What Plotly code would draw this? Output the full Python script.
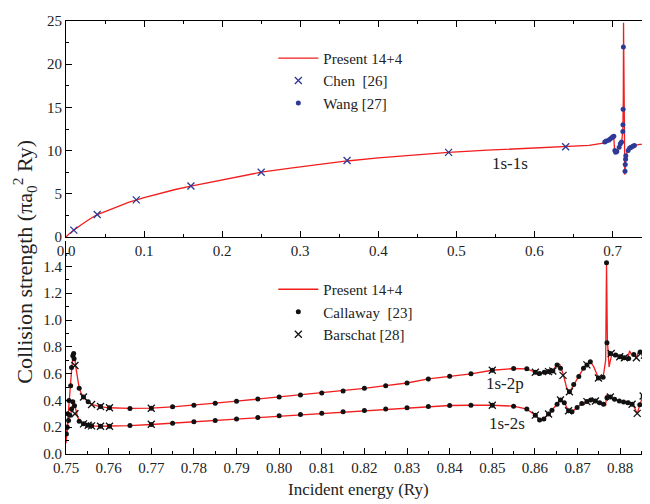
import plotly.graph_objects as go

# ---------------- top panel: 1s-1s ----------------
top_present_E = [0, 0.0025, 0.005, 0.01, 0.015, 0.02, 0.03, 0.04, 0.05, 0.065, 0.08, 0.1, 0.12, 0.14,
                 0.16, 0.19, 0.22, 0.25, 0.29, 0.33, 0.36, 0.40, 0.445, 0.49, 0.54, 0.59, 0.64, 0.67,
                 0.690, 0.693, 0.696, 0.699, 0.7015, 0.7022, 0.703, 0.7045, 0.706, 0.708, 0.710, 0.712,
                 0.7132, 0.7138, 0.7141, 0.7150, 0.7157, 0.7165, 0.7172, 0.719, 0.721, 0.724, 0.728,
                 0.733, 0.738, 0.7405, 0.7410, 0.7416, 0.7420, 0.7428, 0.7437, 0.745, 0.748]
top_present_O = [0, 0.25, 0.45, 0.8, 1.15, 1.45, 2.05, 2.6, 2.95, 3.5, 4.0, 4.55, 5.05, 5.5,
                 5.9, 6.45, 7.0, 7.5, 8.0, 8.45, 8.8, 9.15, 9.5, 9.8, 10.05, 10.25, 10.45, 10.6,
                 10.9, 11.15, 11.4, 11.55, 11.75, 10.6, 9.85, 9.8, 10.0, 10.5, 10.85, 11.2,
                 12.5, 16.0, 24.8, 12.0, 7.2, 8.3, 9.4, 9.9, 10.3, 10.5, 10.6,
                 10.7, 10.75, 10.9, 20.2, 20.2, 12.0, 10.3, 11.0, 10.8, 10.9]

chen_E = [0.01, 0.04, 0.09, 0.16, 0.25, 0.36, 0.49, 0.64]
chen_O = [0.8, 2.6, 4.3, 5.9, 7.5, 8.85, 9.8, 10.45]

wang_E = [0.690, 0.692, 0.695, 0.697, 0.699, 0.7005, 0.7017, 0.703, 0.704, 0.7055, 0.7085, 0.710,
          0.7115, 0.7132, 0.7134, 0.7136, 0.7139, 0.7160, 0.7163, 0.7167, 0.7170, 0.720, 0.722,
          0.724, 0.726, 0.728]
wang_O = [11.0, 11.1, 11.2, 11.35, 11.5, 11.6, 11.65, 10.0, 9.8, 9.9, 10.4, 10.8,
          11.0, 12.2, 13.0, 14.8, 22.0, 7.6, 8.4, 9.0, 9.4, 10.0, 10.3,
          10.4, 10.5, 10.6]

# ---------------- bottom panel: 1s-2p and 1s-2s ----------------
p2p_E = [0.7500, 0.7502, 0.7505, 0.7508, 0.7511, 0.7514, 0.7517, 0.7520, 0.7523, 0.7527, 0.7531,
         0.7536, 0.7541, 0.7550, 0.7560, 0.7580, 0.7600, 0.7650, 0.7700, 0.7750, 0.7800, 0.7850,
         0.7900, 0.7950, 0.8000, 0.8050, 0.8100, 0.8150, 0.8200, 0.8250, 0.8300, 0.8350, 0.8400,
         0.8450, 0.8500, 0.8550, 0.8580, 0.8600, 0.8611, 0.8622, 0.8632, 0.8642, 0.8652, 0.8658,
         0.8666, 0.8674, 0.8681, 0.8691, 0.8703, 0.8714, 0.8722, 0.8730, 0.8738, 0.8749, 0.8760,
         0.8766, 0.8768, 0.8770, 0.8774, 0.8780, 0.8789, 0.8799, 0.8810, 0.8818, 0.8822, 0.8827,
         0.8832, 0.8838, 0.8843, 0.8847, 0.8852, 0.8857, 0.8861, 0.8864, 0.8866, 0.8870]
p2p_O = [0.08, 0.17, 0.30, 0.42, 0.53, 0.66, 0.745, 0.73, 0.65, 0.56, 0.49,
         0.45, 0.425, 0.395, 0.37, 0.354, 0.345, 0.34, 0.342, 0.352, 0.364, 0.379,
         0.394, 0.41, 0.425, 0.44, 0.455, 0.47, 0.49, 0.51, 0.53, 0.56, 0.581,
         0.598, 0.625, 0.638, 0.636, 0.61, 0.60, 0.61, 0.615, 0.625, 0.665, 0.67,
         0.60, 0.50, 0.46, 0.518, 0.579, 0.64, 0.665, 0.689, 0.652, 0.567, 0.572,
         0.70, 1.43, 0.85, 0.65, 0.74, 0.738, 0.726, 0.718, 0.713, 0.77, 0.74,
         0.743, 0.718, 0.765, 0.762, 0.73, 0.738, 0.76, 0.50, 0.80, 0.80]

p2s_E = [0.7500, 0.7502, 0.7505, 0.7508, 0.7511, 0.7514, 0.7517, 0.7520, 0.7523, 0.7527, 0.7531,
         0.7536, 0.7541, 0.7550, 0.7560, 0.7580, 0.7600, 0.7650, 0.7700, 0.7750, 0.7800, 0.7850,
         0.7900, 0.7950, 0.8000, 0.8050, 0.8100, 0.8150, 0.8200, 0.8250, 0.8300, 0.8350, 0.8400,
         0.8450, 0.8500, 0.8550, 0.8581, 0.8601, 0.8611, 0.8621, 0.8632, 0.8640, 0.8652, 0.8660,
         0.8669, 0.8679, 0.8687, 0.8699, 0.8710, 0.8722, 0.8731, 0.8742, 0.8752, 0.8761, 0.8766,
         0.8768, 0.8772, 0.8777, 0.8787, 0.8798, 0.8808, 0.8818, 0.8828, 0.8834, 0.8840, 0.8846,
         0.8854, 0.8863, 0.8866, 0.8868, 0.8870]
p2s_O = [0.10, 0.17, 0.24, 0.29, 0.30, 0.34, 0.40, 0.37, 0.32, 0.28, 0.25,
         0.235, 0.225, 0.217, 0.21, 0.207, 0.207, 0.212, 0.22, 0.23, 0.24, 0.25,
         0.262, 0.273, 0.285, 0.295, 0.305, 0.315, 0.325, 0.335, 0.345, 0.354, 0.362,
         0.364, 0.364, 0.357, 0.335, 0.29, 0.254, 0.261, 0.298, 0.327, 0.371, 0.403,
         0.383, 0.323, 0.315, 0.347, 0.376, 0.391, 0.403, 0.396, 0.383, 0.371, 0.365,
         0.44, 0.43, 0.425, 0.408, 0.396, 0.389, 0.383, 0.371, 0.345, 0.30, 0.367,
         0.433, 0.42, 0.30, 0.44, 0.44]

callaway_2p_E = [0.7502, 0.7504, 0.7507, 0.7511, 0.7513, 0.7516, 0.7518, 0.7519, 0.7531, 0.7541,
                 0.7552, 0.7581, 0.7602, 0.765, 0.770, 0.775, 0.780, 0.785, 0.790, 0.795, 0.800,
                 0.805, 0.810, 0.815, 0.820, 0.825, 0.830, 0.835, 0.840, 0.845, 0.850, 0.855,
                 0.8581, 0.8601, 0.8611, 0.8622, 0.8632, 0.8642, 0.8652, 0.8660, 0.8681, 0.8691,
                 0.8703, 0.8714, 0.8722, 0.8730, 0.8749, 0.8760, 0.8768, 0.8769, 0.8777, 0.8789,
                 0.8799, 0.8810, 0.8820, 0.8832, 0.8847, 0.8857, 0.8865]
callaway_2p_O = [0.20, 0.30, 0.40, 0.51, 0.645, 0.733, 0.75, 0.71, 0.49, 0.425,
                 0.39, 0.354, 0.345, 0.34, 0.342, 0.352, 0.364, 0.379, 0.394, 0.41, 0.425,
                 0.44, 0.455, 0.47, 0.49, 0.51, 0.53, 0.56, 0.581, 0.598, 0.625, 0.638,
                 0.636, 0.61, 0.60, 0.61, 0.615, 0.62, 0.665, 0.64, 0.464, 0.518,
                 0.579, 0.64, 0.665, 0.689, 0.567, 0.572, 1.427, 0.83, 0.75, 0.738,
                 0.726, 0.718, 0.713, 0.743, 0.762, 0.738, 0.767]

callaway_2s_E = [0.7501, 0.7503, 0.7506, 0.7509, 0.7513, 0.7516, 0.7520, 0.7531, 0.7541, 0.7552,
                 0.7560, 0.7581, 0.7602, 0.765, 0.770, 0.775, 0.780, 0.785, 0.790, 0.795, 0.800,
                 0.805, 0.810, 0.815, 0.820, 0.825, 0.830, 0.835, 0.840, 0.845, 0.850, 0.855,
                 0.8581, 0.8601, 0.8611, 0.8621, 0.8632, 0.8640, 0.8652, 0.8660, 0.8669, 0.8679,
                 0.8687, 0.8699, 0.8710, 0.8722, 0.8731, 0.8742, 0.8752, 0.8761, 0.8769, 0.8777,
                 0.8787, 0.8798, 0.8808, 0.8818, 0.8828, 0.8846, 0.8854, 0.8863]
callaway_2s_O = [0.15, 0.20, 0.25, 0.29, 0.335, 0.39, 0.36, 0.245, 0.225, 0.215,
                 0.21, 0.207, 0.207, 0.212, 0.22, 0.23, 0.24, 0.25, 0.262, 0.273, 0.285,
                 0.295, 0.305, 0.315, 0.325, 0.335, 0.345, 0.354, 0.362, 0.364, 0.364, 0.357,
                 0.335, 0.29, 0.254, 0.261, 0.298, 0.327, 0.371, 0.403, 0.383, 0.323,
                 0.315, 0.347, 0.376, 0.391, 0.403, 0.396, 0.383, 0.371, 0.42, 0.425,
                 0.408, 0.396, 0.389, 0.383, 0.371, 0.367, 0.433, 0.42]

barschat_2p_E = [0.7521, 0.7541, 0.7560, 0.7581, 0.7602, 0.770, 0.850, 0.8601, 0.8632, 0.8642,
                 0.8666, 0.8681, 0.8722, 0.8749, 0.8779, 0.8799, 0.8810, 0.8838, 0.8857, 0.8866]
barschat_2p_O = [0.66, 0.425, 0.37, 0.354, 0.345, 0.342, 0.625, 0.61, 0.615, 0.62,
                 0.587, 0.464, 0.665, 0.567, 0.75, 0.726, 0.718, 0.718, 0.738, 0.735]
barschat_2s_E = [0.7521, 0.7541, 0.7552, 0.7560, 0.7581, 0.7602, 0.770, 0.850, 0.8601, 0.8632,
                 0.8660, 0.8679, 0.8722, 0.8742, 0.8777, 0.8828, 0.8840, 0.8854]
barschat_2s_O = [0.30, 0.225, 0.215, 0.21, 0.207, 0.207, 0.222, 0.364, 0.29, 0.298,
                 0.403, 0.323, 0.391, 0.396, 0.425, 0.371, 0.303, 0.433]

RED = "#f21d1d"
BLUE = "#2e3a96"
FONT = "Liberation Serif"

fig = go.Figure()

# top panel
fig.add_trace(go.Scatter(x=top_present_E, y=top_present_O, mode="lines", name="Present 14+4",
                         line=dict(color=RED, width=1.3), xaxis="x", yaxis="y", legend="legend"))
fig.add_trace(go.Scatter(x=chen_E, y=chen_O, mode="markers", name="Chen\u00a0 [26]",
                         marker=dict(symbol="x-thin", size=7, color=BLUE, line=dict(color=BLUE, width=1.3)),
                         xaxis="x", yaxis="y", legend="legend"))
fig.add_trace(go.Scatter(x=wang_E, y=wang_O, mode="markers", name="Wang [27]",
                         marker=dict(symbol="circle", size=5, color=BLUE),
                         xaxis="x", yaxis="y", legend="legend"))

# bottom panel
fig.add_trace(go.Scatter(x=p2p_E, y=p2p_O, mode="lines", name="Present 14+4",
                         line=dict(color=RED, width=1.3), xaxis="x2", yaxis="y2", legend="legend2"))
fig.add_trace(go.Scatter(x=p2s_E, y=p2s_O, mode="lines", name="Present 14+4", showlegend=False,
                         line=dict(color=RED, width=1.3), xaxis="x2", yaxis="y2", legend="legend2"))
fig.add_trace(go.Scatter(x=callaway_2p_E + callaway_2s_E, y=callaway_2p_O + callaway_2s_O,
                         mode="markers", name="Callaway\u00a0 [23]",
                         marker=dict(symbol="circle", size=5, color="#111111"),
                         xaxis="x2", yaxis="y2", legend="legend2"))
fig.add_trace(go.Scatter(x=barschat_2p_E + barschat_2s_E, y=barschat_2p_O + barschat_2s_O,
                         mode="markers", name="Barschat [28]",
                         marker=dict(symbol="x-thin", size=7, color="#111111",
                                     line=dict(color="#111111", width=1.3)),
                         xaxis="x2", yaxis="y2", legend="legend2"))

axis_common = dict(showline=True, linecolor="black", linewidth=1, ticks="inside", ticklen=6,
                   tickcolor="black", tickwidth=1, showgrid=False, zeroline=False,
                   ticklabeloverflow="allow",
                   tickfont=dict(family=FONT, size=15, color="#222"))

fig.update_layout(
    width=650, height=504,
    # the page body adds an 8px offset, so margins are reduced accordingly
    margin=dict(l=58, r=8, t=5, b=58),
    paper_bgcolor="white", plot_bgcolor="white",
    font=dict(family=FONT, size=15, color="#222"),
    xaxis=dict(domain=[0, 1], range=[0, 0.748], anchor="y", dtick=0.1, tickformat=".1f",
               mirror="ticks", minor=dict(dtick=0.05, ticks="inside", ticklen=3, tickcolor="black"),
               **axis_common),
    yaxis=dict(domain=[0.5011, 1], range=[0, 25], anchor="x", dtick=5, mirror="ticks",
               minor=dict(dtick=2.5, ticks="inside", ticklen=3, tickcolor="black"), **axis_common),
    xaxis2=dict(domain=[0, 1], range=[0.75, 0.887], anchor="y2", dtick=0.01, tickformat=".2f",
                mirror=False, minor=dict(dtick=0.005, ticks="inside", ticklen=3, tickcolor="black"),
                **axis_common),
    yaxis2=dict(domain=[0, 0.492], range=[0, 1.59], anchor="x2", dtick=0.2, tickformat=".1f",
                mirror="ticks", minor=dict(dtick=0.1, ticks="inside", ticklen=3, tickcolor="black"),
                **axis_common),
    legend=dict(x=0.355, y=0.952, xanchor="left", yanchor="top", bgcolor="rgba(0,0,0,0)",
                font=dict(family=FONT, size=15, color="#222"), tracegroupgap=0, itemwidth=40),
    legend2=dict(x=0.355, y=0.418, xanchor="left", yanchor="top", bgcolor="rgba(0,0,0,0)",
                 font=dict(family=FONT, size=15, color="#222"), tracegroupgap=0, itemwidth=40),
    showlegend=True,
    annotations=[
        dict(text="1s-1s", x=0.5685, y=8.5, xref="x", yref="y", showarrow=False,
             font=dict(family=FONT, size=17, color="#222")),
        dict(text="1s-2p", x=0.853, y=0.528, xref="x2", yref="y2", showarrow=False,
             font=dict(family=FONT, size=17, color="#222")),
        dict(text="1s-2s", x=0.8535, y=0.227, xref="x2", yref="y2", showarrow=False,
             font=dict(family=FONT, size=17, color="#222")),
        dict(text="Collision strength (\u03c0a<sub>0</sub><sup>2</sup> Ry)", x=(25 - 66) / 584, y=0.444,
             xref="paper", yref="paper", showarrow=False, textangle=-90,
             xanchor="center", yanchor="middle", font=dict(family=FONT, size=22, color="#222")),
        dict(text="Incident energy (Ry)", x=(358 - 66) / 584, y=-0.082, xref="paper", yref="paper",
             showarrow=False, xanchor="center", yanchor="middle",
             font=dict(family=FONT, size=17, color="#222")),
    ],
)

fig.write_html("out.html")
